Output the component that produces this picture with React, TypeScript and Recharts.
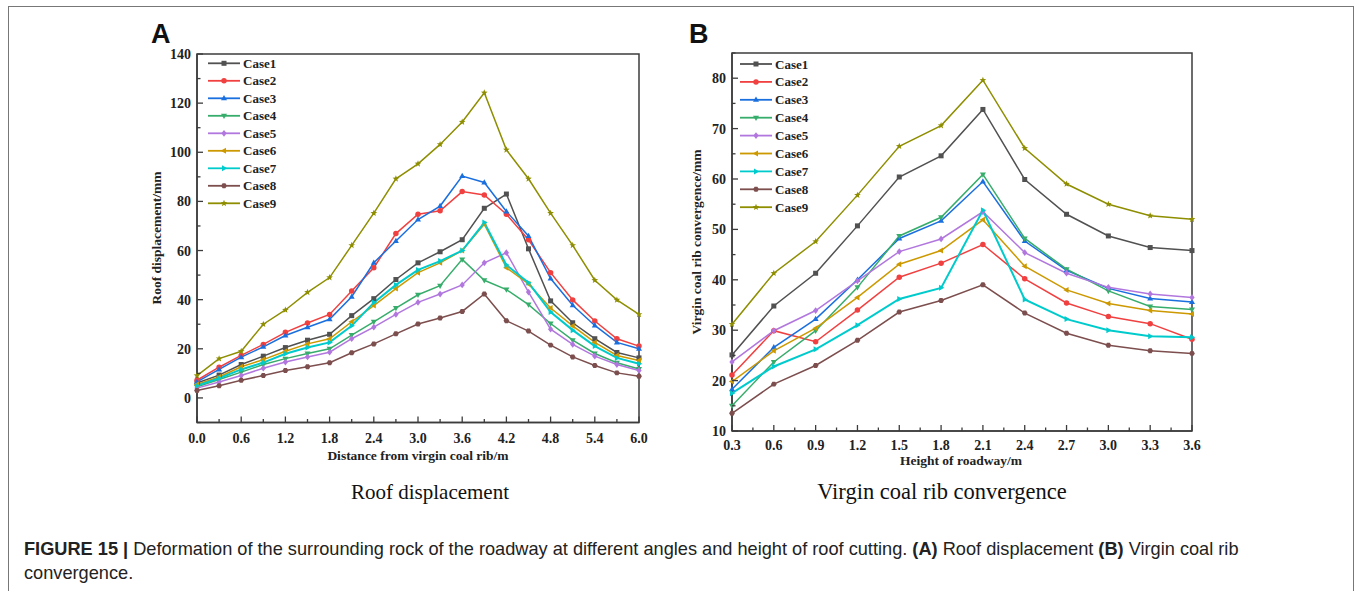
import React from "react";
import { LineChart, Line, XAxis, YAxis, ReferenceArea } from "recharts";

const caseNames = ["Case1", "Case2", "Case3", "Case4", "Case5", "Case6", "Case7", "Case8", "Case9"];
const caseColors = ["#515151", "#F14040", "#1A6FDF", "#37AD6B", "#B177DE", "#CC9900", "#00CBCC", "#7D4E4E", "#8E8E00"];
const caseMarkers = ["square", "circle", "up", "down", "diamond", "left", "right", "hexagon", "star"];

// (A) roof displacement
const roofDistance = [0, 0.3, 0.6, 0.9, 1.2, 1.5, 1.8, 2.1, 2.4, 2.7, 3.0, 3.3, 3.6, 3.9, 4.2, 4.5, 4.8, 5.1, 5.4, 5.7, 6.0];
const roofCase1 = [6.1, 9.3, 13.6, 17.0, 20.5, 23.5, 25.9, 33.5, 40.4, 48.2, 55.0, 59.5, 64.4, 77.2, 83.0, 60.7, 39.5, 30.6, 24.1, 18.5, 16.3];
const roofCase2 = [7.2, 12.5, 17.3, 21.8, 26.7, 30.5, 34.0, 43.5, 53.0, 66.9, 74.8, 76.2, 84.0, 82.6, 74.8, 64.4, 51.0, 39.9, 31.3, 24.1, 21.1];
const roofCase3 = [6.5, 11.6, 16.6, 20.8, 25.4, 28.8, 32.0, 41.2, 55.0, 63.9, 72.6, 78.1, 90.3, 87.7, 75.9, 65.9, 48.6, 37.7, 29.5, 22.6, 20.0];
const roofCase4 = [4.5, 7.5, 10.5, 13.6, 16.0, 18.1, 20.0, 25.6, 31.0, 36.6, 42.0, 45.7, 56.4, 47.9, 44.1, 38.0, 30.3, 23.5, 18.1, 14.3, 11.8];
const roofCase5 = [4.0, 6.5, 9.1, 12.1, 14.6, 16.7, 18.6, 24.1, 28.8, 34.0, 38.9, 42.3, 46.0, 55.0, 59.1, 43.1, 28.0, 21.8, 17.0, 13.6, 11.2];
const roofCase6 = [5.5, 8.5, 12.7, 15.6, 19.0, 22.0, 24.1, 31.0, 37.6, 44.5, 51.0, 55.0, 60.0, 70.7, 53.0, 46.4, 36.6, 29.3, 22.6, 17.3, 15.2];
const roofCase7 = [5.0, 8.0, 11.6, 14.4, 18.0, 20.5, 22.6, 29.4, 38.8, 46.0, 52.1, 55.7, 60.0, 71.4, 54.1, 46.9, 35.0, 27.6, 21.1, 16.3, 13.9];
const roofCase8 = [3.0, 5.0, 7.2, 9.1, 11.2, 12.7, 14.3, 18.4, 22.0, 26.1, 30.1, 32.5, 35.2, 42.3, 31.4, 27.2, 21.5, 16.7, 13.2, 10.2, 8.8];
const roofCase9 = [9.1, 16.0, 19.0, 30.0, 35.8, 43.0, 49.0, 62.1, 75.2, 89.2, 95.3, 103.2, 112.3, 124.2, 101.0, 89.2, 75.2, 62.1, 47.9, 39.9, 34.0];
const roofTicksX = [0, 0.3, 0.6, 0.9, 1.2, 1.5, 1.8, 2.1, 2.4, 2.7, 3.0, 3.3, 3.6, 3.9, 4.2, 4.5, 4.8, 5.1, 5.4, 5.7, 6.0];
const roofTicksY = [-10, 0, 10, 20, 30, 40, 50, 60, 70, 80, 90, 100, 110, 120, 130, 140];

// (B) virgin coal rib convergence
const ribHeight = [0.3, 0.6, 0.9, 1.2, 1.5, 1.8, 2.1, 2.4, 2.7, 3.0, 3.3, 3.6];
const ribCase1 = [25.1, 34.8, 41.3, 50.7, 60.4, 64.6, 73.8, 59.9, 53.0, 48.7, 46.4, 45.8];
const ribCase2 = [21.1, 29.9, 27.7, 34.0, 40.5, 43.3, 47.0, 40.2, 35.4, 32.7, 31.3, 28.2];
const ribCase3 = [18.3, 26.6, 32.2, 40.0, 48.2, 51.7, 59.5, 47.7, 41.9, 38.3, 36.3, 35.6];
const ribCase4 = [15.0, 23.7, 29.9, 38.5, 48.7, 52.4, 60.9, 48.2, 42.1, 37.8, 34.7, 34.1];
const ribCase5 = [23.7, 29.9, 33.9, 39.8, 45.6, 48.1, 53.5, 45.4, 41.3, 38.5, 37.2, 36.5];
const ribCase6 = [19.8, 25.9, 30.4, 36.5, 43.1, 45.8, 51.9, 42.7, 38.0, 35.3, 33.9, 33.2];
const ribCase7 = [17.5, 22.8, 26.2, 31.0, 36.2, 38.4, 53.8, 36.1, 32.2, 30.0, 28.8, 28.6];
const ribCase8 = [13.5, 19.3, 23.0, 28.0, 33.6, 35.9, 39.0, 33.4, 29.4, 27.0, 25.9, 25.4];
const ribCase9 = [31.2, 41.3, 47.6, 56.8, 66.5, 70.6, 79.6, 66.1, 59.0, 55.0, 52.7, 52.0];
const ribTicksX = [0.3, 0.45, 0.6, 0.75, 0.9, 1.05, 1.2, 1.35, 1.5, 1.65, 1.8, 1.95, 2.1, 2.25, 2.4, 2.55, 2.7, 2.85, 3.0, 3.15, 3.3, 3.45, 3.6];
const ribTicksY = [10, 15, 20, 25, 30, 35, 40, 45, 50, 55, 60, 65, 70, 75, 80, 85];

const roofSeries = [roofCase1, roofCase2, roofCase3, roofCase4, roofCase5, roofCase6, roofCase7, roofCase8, roofCase9];
const ribSeries = [ribCase1, ribCase2, ribCase3, ribCase4, ribCase5, ribCase6, ribCase7, ribCase8, ribCase9];

function buildRows(xs: number[], series: number[][]) {
  return xs.map((x, j) => {
    const row: Record<string, number> = { x };
    caseNames.forEach((n, i) => (row[n] = series[i][j]));
    return row;
  });
}

const roofData = buildRows(roofDistance, roofSeries);
const ribData = buildRows(ribHeight, ribSeries);

const AXIS = "#3c3c3c";
const SERIF = "'Liberation Serif', 'Times New Roman', serif";
const SANS = "'Liberation Sans', Arial, sans-serif";

function Marker({ shape, cx, cy, color, r = 2.5 }: { shape: string; cx: number; cy: number; color: string; r?: number }) {
  if (cx == null || cy == null) return null;
  const poly = (pts: number[][]) => <polygon points={pts.map((p) => `${cx + p[0] * r},${cy + p[1] * r}`).join(" ")} fill={color} />;
  switch (shape) {
    case "square":
      return <rect x={cx - r} y={cy - r} width={2 * r} height={2 * r} fill={color} />;
    case "circle":
      return <circle cx={cx} cy={cy} r={r * 1.1} fill={color} />;
    case "up":
      return poly([[0, -1.3], [1.2, 0.8], [-1.2, 0.8]]);
    case "down":
      return poly([[0, 1.3], [1.2, -0.8], [-1.2, -0.8]]);
    case "diamond":
      return poly([[0, -1.35], [1.05, 0], [0, 1.35], [-1.05, 0]]);
    case "left":
      return poly([[-1.3, 0], [0.8, -1.2], [0.8, 1.2]]);
    case "right":
      return poly([[1.3, 0], [-0.8, -1.2], [-0.8, 1.2]]);
    case "hexagon": {
      const pts = [0, 1, 2, 3, 4, 5].map((k) => [Math.cos((Math.PI / 3) * k) * 1.15, Math.sin((Math.PI / 3) * k) * 1.15]);
      return poly(pts);
    }
    default: {
      const pts = [0, 1, 2, 3, 4, 5, 6, 7, 8, 9].map((k) => {
        const a = -Math.PI / 2 + (Math.PI / 5) * k;
        const rr = k % 2 === 0 ? 1.4 : 0.6;
        return [Math.cos(a) * rr, Math.sin(a) * rr];
      });
      return poly(pts);
    }
  }
}

function xTick(isMajor: (v: number) => boolean, dy: number) {
  return (props: any) => {
    const { x, y, payload } = props;
    const major = isMajor(payload.value);
    return (
      <g>
        <line x1={x} x2={x} y1={y} y2={y - (major ? 6 : 3.5)} stroke={AXIS} strokeWidth={1.3} />
        {major && (
          <text x={x} y={y + dy} textAnchor="middle" fontFamily={SERIF} fontWeight="bold" fontSize={14} fill="#222">
            {payload.value.toFixed(1)}
          </text>
        )}
      </g>
    );
  };
}

function yTick(isMajor: (v: number) => boolean) {
  return (props: any) => {
    const { x, y, payload } = props;
    const major = isMajor(payload.value);
    return (
      <g>
        <line x1={x} x2={x + (major ? 6 : 3.5)} y1={y} y2={y} stroke={AXIS} strokeWidth={1.3} />
        {major && (
          <text x={x - 6} y={y + 5} textAnchor="end" fontFamily={SERIF} fontWeight="bold" fontSize={14} fill="#222">
            {payload.value}
          </text>
        )}
      </g>
    );
  };
}

function seriesLines() {
  return caseNames.map((name, i) => (
    <Line
      key={name}
      type="linear"
      dataKey={name}
      stroke={caseColors[i]}
      strokeWidth={i === 6 ? 2 : 1.5}
      isAnimationActive={false}
      dot={(p: any) => <Marker key={`${name}-${p.index}`} shape={caseMarkers[i]} cx={p.cx} cy={p.cy} color={caseColors[i]} />}
      activeDot={false}
    />
  ));
}

function RoofChart() {
  return (
    <div style={{ position: "absolute", left: 0, top: 0 }}>
      <LineChart width={700} height={480} data={roofData} margin={{ top: 54, right: 61, bottom: 27.5, left: 147 }}>
        <XAxis
          dataKey="x"
          type="number"
          domain={[0, 6]}
          ticks={roofTicksX}
          interval={0}
          height={30}
          tickSize={0}
          tickMargin={0}
          tickLine={false}
          axisLine={{ stroke: AXIS, strokeWidth: 1.5 }}
          tick={xTick((v) => Math.round(v * 10) % 6 === 0, 20)}
        />
        <YAxis
          type="number"
          domain={[-10, 140]}
          ticks={roofTicksY}
          interval={0}
          width={50}
          tickSize={0}
          tickMargin={0}
          tickLine={false}
          axisLine={{ stroke: AXIS, strokeWidth: 1.5 }}
          tick={yTick((v) => v % 20 === 0)}
        />
        <ReferenceArea x1={0} x2={6} y1={-10} y2={140} fill="none" fillOpacity={0} stroke={AXIS} strokeWidth={1.5} />
        {seriesLines()}
      </LineChart>
    </div>
  );
}

function RibChart() {
  return (
    <div style={{ position: "absolute", left: 680, top: 0 }}>
      <LineChart width={560} height={480} data={ribData} margin={{ top: 53, right: 48, bottom: 19, left: 12 }}>
        <XAxis
          dataKey="x"
          type="number"
          domain={[0.3, 3.6]}
          ticks={ribTicksX}
          interval={0}
          height={30}
          tickSize={0}
          tickMargin={0}
          tickLine={false}
          axisLine={{ stroke: AXIS, strokeWidth: 1.5 }}
          tick={xTick((v) => Math.round(v * 100) % 30 === 0, 19)}
        />
        <YAxis
          type="number"
          domain={[10, 85]}
          ticks={ribTicksY}
          interval={0}
          width={40}
          tickSize={0}
          tickMargin={0}
          tickLine={false}
          axisLine={{ stroke: AXIS, strokeWidth: 1.5 }}
          tick={yTick((v) => v % 10 === 0)}
        />
        <ReferenceArea x1={0.3} x2={3.6} y1={10} y2={85} fill="none" fillOpacity={0} stroke={AXIS} strokeWidth={1.5} />
        {seriesLines()}
      </LineChart>
    </div>
  );
}

function LegendBlock({ x, y, step }: { x: number; y: number; step: number }) {
  return (
    <g>
      {caseNames.map((name, i) => {
        const cy = y + i * step;
        return (
          <g key={name}>
            <line x1={x} x2={x + 32} y1={cy} y2={cy} stroke={caseColors[i]} strokeWidth={1.8} />
            <Marker shape={caseMarkers[i]} cx={x + 16} cy={cy} color={caseColors[i]} />
            <text x={x + 35} y={cy + 4.5} fontFamily={SERIF} fontWeight="bold" fontSize={13} fill="#222">
              {name}
            </text>
          </g>
        );
      })}
    </g>
  );
}

export default function App() {
  return (
    <div style={{ position: "absolute", left: 0, top: 0, width: 1356, height: 591, background: "#fff", overflow: "hidden" }}>
      <div
        style={{
          position: "absolute",
          left: 8,
          top: 6,
          width: 1344,
          height: 620,
          borderLeft: "1px solid #777",
          borderTop: "1px solid #777",
          borderRight: "1px solid #777",
        }}
      />
      <RoofChart />
      <RibChart />
      <svg width={1356} height={591} style={{ position: "absolute", left: 0, top: 0, pointerEvents: "none" }}>
        <text x={151} y={43} fontFamily={SANS} fontWeight="bold" fontSize={27} fill="#111">A</text>
        <text x={689} y={43} fontFamily={SANS} fontWeight="bold" fontSize={27} fill="#111">B</text>

        <LegendBlock x={208} y={63.3} step={17.5} />
        <LegendBlock x={740} y={64} step={17.9} />

        <text x={418} y={460} textAnchor="middle" fontFamily={SERIF} fontWeight="bold" fontSize={13.5} fill="#222">
          Distance from virgin coal rib/m
        </text>
        <text transform="translate(161,238) rotate(-90)" textAnchor="middle" fontFamily={SERIF} fontWeight="bold" fontSize={13.5} fill="#222">
          Roof displacement/mm
        </text>
        <text x={961} y={465} textAnchor="middle" fontFamily={SERIF} fontWeight="bold" fontSize={13.5} fill="#222">
          Height of roadway/m
        </text>
        <text transform="translate(701,242) rotate(-90)" textAnchor="middle" fontFamily={SERIF} fontWeight="bold" fontSize={13.5} fill="#222">
          Virgin coal rib convergence/mm
        </text>

        <text x={430} y={499} textAnchor="middle" fontFamily={SERIF} fontSize={21} fill="#111">Roof displacement</text>
        <text x={942} y={499} textAnchor="middle" fontFamily={SERIF} fontSize={22.5} fill="#111">Virgin coal rib convergence</text>

        <text x={24} y={555} fontFamily={SANS} fontSize={18.2} fill="#222">
          <tspan fontWeight="bold">FIGURE 15 | </tspan>
          <tspan>Deformation of the surrounding rock of the roadway at different angles and height of roof cutting. </tspan>
          <tspan fontWeight="bold">(A)</tspan>
          <tspan> Roof displacement </tspan>
          <tspan fontWeight="bold">(B)</tspan>
          <tspan> Virgin coal rib</tspan>
        </text>
        <text x={24} y={579} fontFamily={SANS} fontSize={18.2} fill="#222">convergence.</text>
      </svg>
    </div>
  );
}
